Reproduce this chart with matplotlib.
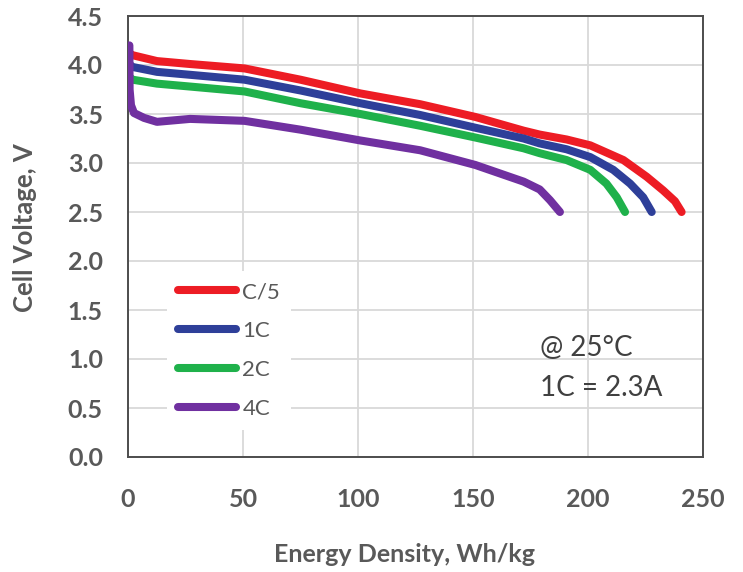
import matplotlib
matplotlib.use("Agg")
import matplotlib.pyplot as plt

plt.rcParams['font.family'] = ['Lato', 'DejaVu Sans']

# Data
c5_x = [0, 2, 12.6, 27, 50.7, 75, 101, 127, 151, 172, 179, 190.7, 201, 215.4, 225.5, 232.7, 237.8, 240.7]
c5_y = [4.13, 4.10, 4.04, 4.01, 3.965, 3.85, 3.71, 3.60, 3.47, 3.33, 3.29, 3.24, 3.18, 3.03, 2.86, 2.72, 2.61, 2.50]

c1_x = [0, 2, 12.6, 27, 50.7, 75, 101, 127, 151, 172, 179, 190.7, 201, 211, 218.3, 224, 227.7]
c1_y = [4.02, 3.98, 3.93, 3.90, 3.85, 3.74, 3.61, 3.49, 3.36, 3.25, 3.20, 3.14, 3.06, 2.93, 2.79, 2.65, 2.50]

c2_x = [0, 2, 12.6, 27, 50.7, 75, 101, 127, 151, 172, 179, 190.7, 201, 208, 212.5, 216.1]
c2_y = [3.89, 3.85, 3.81, 3.78, 3.73, 3.61, 3.50, 3.38, 3.26, 3.15, 3.10, 3.03, 2.93, 2.79, 2.65, 2.50]

c4_x = [0.6, 0.7, 1.3, 2.6, 7, 12.6, 27, 50.7, 75, 101, 127, 151, 172, 179, 183.5, 187.8]
c4_y = [4.20, 3.75, 3.59, 3.51, 3.46, 3.42, 3.45, 3.43, 3.34, 3.23, 3.13, 2.98, 2.81, 2.73, 2.62, 2.50]

series_labels = ["C/5", "1C", "2C", "4C"]
series_colors = ["#ED1C24", "#2E3F99", "#1FB14B", "#7030A0"]

x_ticks = [0, 50, 100, 150, 200, 250]
y_ticks = [0.0, 0.5, 1.0, 1.5, 2.0, 2.5, 3.0, 3.5, 4.0, 4.5]

fig = plt.figure(figsize=(7.43, 5.72), dpi=100)
ax = fig.add_axes([128 / 743, 1 - 457 / 572, (703 - 128) / 743, (457 - 16) / 572])

series = [(c5_x, c5_y), (c1_x, c1_y), (c2_x, c2_y), (c4_x, c4_y)]
for (xs, ys), lab, col in zip(series, series_labels, series_colors):
    ax.plot(xs, ys, color=col, lw=5.8, label=lab, solid_capstyle='round',
            solid_joinstyle='round', zorder=3)

ax.set_xlim(0, 250)
ax.set_ylim(0, 4.5)
ax.set_xticks(x_ticks)
ax.set_yticks(y_ticks)
ax.set_xticklabels([str(v) for v in x_ticks])
ax.set_yticklabels([f"{v:.1f}" for v in y_ticks])
ax.grid(True, color="#D9D9D9", lw=1.3, zorder=0)
ax.set_axisbelow(True)
for s in ax.spines.values():
    s.set_color("#4D4D4D")
    s.set_linewidth(1.4)

ax.tick_params(axis='both', length=0, labelsize=18, labelcolor="#595959")
ax.tick_params(axis='y', pad=18)
ax.tick_params(axis='x', pad=22)
for lab in ax.get_xticklabels() + ax.get_yticklabels():
    lab.set_fontweight('bold')

fig.text(404 / 743, 1 - 555 / 572, "Energy Density, Wh/kg", fontsize=18, fontweight='bold',
         color="#595959", ha='center', va='center')
fig.text(25 / 743, 1 - 228 / 572, "Cell Voltage, V", fontsize=18.5, fontweight='bold',
         color="#595959", ha='center', va='center', rotation=90)

leg = ax.legend(loc='center left', bbox_to_anchor=(0.049, 0.2415), frameon=True,
                fontsize=16, handlelength=2.6, handletextpad=0.28, labelspacing=0.85,
                borderpad=0.5, fancybox=False)
leg.get_frame().set_facecolor('white')
leg.get_frame().set_edgecolor('none')
leg.get_frame().set_alpha(1)
for t in leg.get_texts():
    t.set_color("#595959")

ax.text(179, 1.11, "@ 25°C", fontsize=20, color="#404040", va='center', ha='left', zorder=4)
ax.text(179, 0.70, "1C = 2.3A", fontsize=20, color="#404040", va='center', ha='left', zorder=4)

fig.savefig("out.png", dpi=100, facecolor='white')
